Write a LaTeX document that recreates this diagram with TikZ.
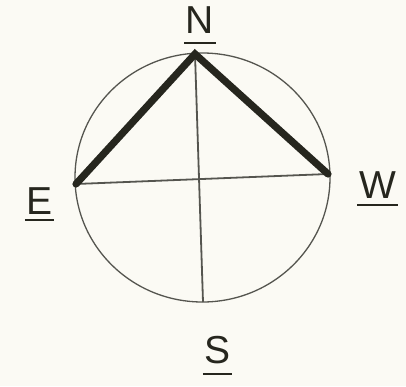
\documentclass[tikz,border=0pt]{standalone}
\usepackage{fontspec}
\setmainfont{Liberation Sans}
\usepackage{tikz}
\usetikzlibrary{positioning}
\definecolor{paper}{HTML}{FBFAF4}
\definecolor{ink}{HTML}{26261E}
\definecolor{fine}{HTML}{55554F}

\begin{document}
\begin{tikzpicture}[x=1pt, y=-1pt, every node/.style={font=\fontsize{39}{39}\selectfont, text=ink}]
\tikzset{dir/.style={anchor=base, inner xsep=1.5pt, inner ysep=0pt}}
\tikzset{uline/.style={draw=ink, line width=1.8pt}}
\tikzset{rim/.style={draw=fine, line width=1.3pt}}
\tikzset{axis/.style={draw=fine, line width=1.8pt}}
\tikzset{heavy/.style={draw=ink, line width=7.2pt, line cap=round, line join=miter}}
\fill[paper] (0,0) rectangle (406,386);
\useasboundingbox (0,0) rectangle (406,386);
% compass rim and cross
\draw[rim] (202.5,177.5) ellipse [x radius=127.5, y radius=124.5];
\coordinate (ptN) at (195,54);
\coordinate (ptS) at (203,302);
\coordinate (ptE) at (76,184);
\coordinate (ptW) at (328,174);
\draw[axis] (ptN)--(ptS);
\draw[axis] (ptE)--(ptW);
\draw[heavy] (ptE)--(ptN)--(ptW);
% labels
\node[dir] (labN) at (200,33) {N};
\node[dir] (labE) at (39.5,214) {E};
\node[dir] (labW) at (377.5,198) {W};
\node[dir] (labS) at (217.5,363) {S};
\draw[uline] ([yshift=-10pt]labN.base west)--([yshift=-10pt]labN.base east);
\draw[uline] ([yshift=-6pt]labE.base west)--([yshift=-6pt]labE.base east);
\draw[uline] ([yshift=-7pt]labW.base west)--([yshift=-7pt]labW.base east);
\draw[uline] ([yshift=-11pt]labS.base west)--([yshift=-11pt]labS.base east);
\end{tikzpicture}
\end{document}
